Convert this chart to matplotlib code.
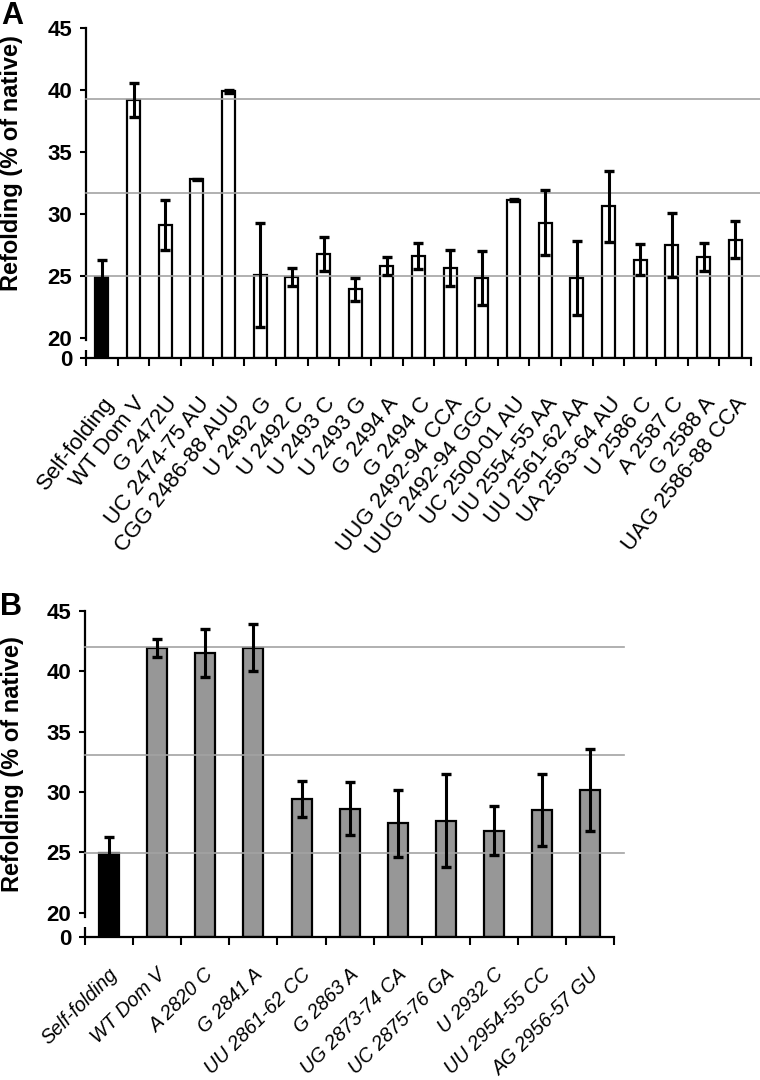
import numpy as np
import matplotlib
matplotlib.use("Agg")
import matplotlib.pyplot as plt
from matplotlib.transforms import ScaledTranslation

plt.rcParams['font.family'] = ['Liberation Sans', 'DejaVu Sans']

# ---------------- data ----------------
labels_a = ["Self-folding", "WT Dom V", "G 2472U", "UC 2474-75 AU", "CGG 2486-88 AUU",
            "U 2492 G", "U 2492 C", "U 2493 C", "U 2493 G", "G 2494 A", "G 2494 C",
            "UUG 2492-94 CCA", "UUG 2492-94 GGC", "UC 2500-01 AU", "UU 2554-55 AA",
            "UU 2561-62 AA", "UA 2563-64 AU", "U 2586 C", "A 2587 C", "G 2588 A",
            "UAG 2586-88 CCA"]
values_a = [24.9, 39.2, 29.1, 32.8, 39.9, 25.1, 24.9, 26.75, 23.9, 25.8, 26.6,
            25.65, 24.8, 31.15, 29.3, 24.85, 30.6, 26.3, 27.5, 26.5, 27.9]
errors_a = [1.4, 1.4, 2.0, 0.05, 0.15, 4.2, 0.7, 1.35, 0.9, 0.7, 1.05,
            1.45, 2.2, 0.08, 2.6, 3.0, 2.85, 1.25, 2.6, 1.15, 1.5]
reflines_a = [39.26, 31.67, 24.97]

labels_b = ["Self-folding", "WT Dom V", "A 2820 C", "G 2841 A", "UU 2861-62 CC",
            "G 2863 A", "UG 2873-74 CA", "UC 2875-76 GA", "U 2932 C",
            "UU 2954-55 CC", "AG 2956-57 GU"]
values_b = [24.9, 41.9, 41.5, 41.95, 29.4, 28.6, 27.4, 27.6, 26.8, 28.5, 30.2]
errors_b = [1.4, 0.75, 2.0, 1.95, 1.5, 2.2, 2.8, 3.85, 2.05, 2.95, 3.4]
reflines_b = [42.0, 33.1, 24.97]

yticks = [0, 20, 25, 30, 35, 40, 45]

W, H = 760, 1080
fig = plt.figure(figsize=(W / 100, H / 100), dpi=100)


def make_scale(k):
    def fwd(v):
        v = np.asarray(v, float)
        return np.where(v >= 20, v, 20 - (20 - v) * k)

    def inv(t):
        t = np.asarray(t, float)
        return np.where(t >= 20, t, 20 - (20 - t) / k)
    return fwd, inv


def panel(rect, labels, values, errors, reflines, k, barw, fill, lab_style,
          rot, lab_dx, lab_dy, ref_xmax, upper_break, lower_break):
    L, B, R, T = rect
    ax = fig.add_axes([L / W, 1 - B / H, (R - L) / W, (B - T) / H])
    ax.set_yscale('function', functions=make_scale(k))
    n = len(labels)
    x = np.arange(n)
    colors = ['black'] + [fill] * (n - 1)
    ax.bar(x, values, width=barw, color=colors, edgecolor='black',
           linewidth=1.6, zorder=2)
    for y in reflines:
        ax.axhline(y, xmin=0, xmax=ref_xmax, color='#a3a3a3', lw=1.2,
                   clip_on=False, zorder=3)
    ax.errorbar(x, values, yerr=errors, fmt='none', ecolor='black',
                elinewidth=2.2, capsize=3.4, capthick=2.4, zorder=4)
    ax.set_xlim(-0.5, n - 0.5)
    ax.set_ylim(0, 45)
    ax.set_yticks(yticks)
    ax.set_yticklabels([str(t) for t in yticks], fontsize=16, fontweight='bold')
    ax.set_xticks(np.arange(n + 1) - 0.5)
    ax.set_xticklabels([])
    ax.tick_params(axis='y', direction='out', length=4, width=1.5, pad=6)
    ax.tick_params(axis='x', direction='out', length=5.5, width=1.5)
    for s in ['top', 'right']:
        ax.spines[s].set_visible(False)
    for s in ['left', 'bottom']:
        ax.spines[s].set_linewidth(1.6)
    ax.spines['left'].set_bounds(upper_break, 45)
    ax.plot([0, 0], [0, lower_break], transform=ax.get_yaxis_transform(),
            color='black', lw=1.6, clip_on=False, solid_capstyle='butt')
    off = ScaledTranslation(lab_dx / 100, -lab_dy / 100, fig.dpi_scale_trans)
    for i, lab in enumerate(labels):
        ax.text(i, 0, lab, transform=ax.get_xaxis_transform() + off,
                rotation=rot, rotation_mode='anchor', ha='right', va='top',
                fontsize=lab_style['size'], style=lab_style['style'])
    return ax


panel((86, 358.3, 751, 28.3), labels_a, values_a, errors_a, reflines_a,
      k=1.67 / 20, barw=0.42, fill='white',
      lab_style={'size': 16, 'style': 'normal'}, rot=52,
      lab_dx=0, lab_dy=35, ref_xmax=(760 - 86) / (751 - 86),
      upper_break=17.7, lower_break=8.0)

panel((85, 936.7, 614.3, 611), labels_b, values_b, errors_b, reflines_b,
      k=2.0 / 20, barw=0.415, fill='#979797',
      lab_style={'size': 14.2, 'style': 'italic'}, rot=45,
      lab_dx=-1, lab_dy=28, ref_xmax=(624 - 85) / (614.3 - 85),
      upper_break=16.1, lower_break=8.0)

fig.text(12 / W, 1 - 163 / H, "Refolding (% of native)", rotation=90,
         ha='center', va='center', fontsize=17, fontweight='bold')
fig.text(12.5 / W, 1 - 764 / H, "Refolding (% of native)", rotation=90,
         ha='center', va='center', fontsize=17, fontweight='bold')
fig.text(1 / W, 1 - 1 / H, "A", ha='left', va='top', fontsize=22,
         fontweight='bold')
fig.text(0 / W, 1 - 592 / H, "B", ha='left', va='top', fontsize=22,
         fontweight='bold')

fig.savefig("out.png", dpi=100)
